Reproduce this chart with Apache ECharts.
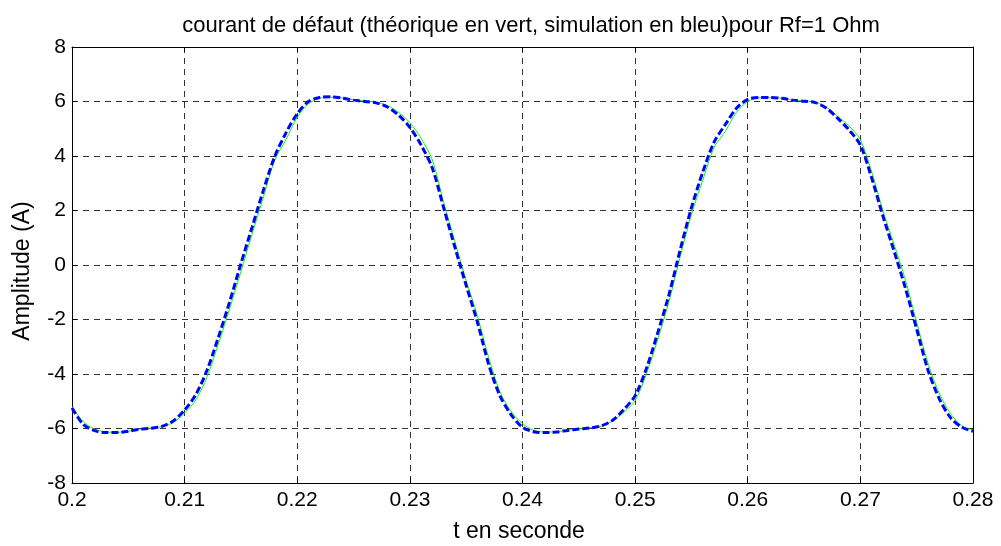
<!DOCTYPE html>
<html><head><meta charset="utf-8">
<script src="https://cdn.jsdelivr.net/npm/echarts@6/dist/echarts.min.js"></script>
<style>html,body{margin:0;padding:0;background:#fff}#c{width:1001px;height:546px}</style>
</head><body><div id="c"></div>
<script>
const titleText = "courant de défaut (théorique en vert, simulation en bleu)pour Rf=1 Ohm";
const xName = "t en seconde";
const yName = "Amplitude (A)";
const tStart = 0.2, tStep = 0.001;
const theoretical = [
 -5.19,-5.75,-6.02,-6.13,-6.14,-6.10,-6.03,-5.98,-5.93,-5.78,
 -5.43,-4.95,-4.10,-2.90,-1.60,-0.25,1.15,2.50,3.85,4.60,
 5.42,5.92,6.12,6.16,6.13,6.06,6.02,5.97,5.85,5.60,
 5.22,4.65,3.85,2.30,0.86,-0.57,-1.86,-3.40,-4.65,-5.38,
 -5.82,-6.07,-6.13,-6.12,-6.06,-6.02,-5.97,-5.92,-5.72,-5.40,
 -4.98,-4.00,-2.75,-1.35,0.30,1.85,3.10,4.30,4.90,5.60,
 6.00,6.14,6.15,6.12,6.06,6.02,5.98,5.78,5.45,5.10,
 4.60,3.43,2.00,0.75,-0.55,-2.10,-3.60,-4.70,-5.45,-5.90,
 -6.05
];
const simulation = [
 -5.25,-5.85,-6.08,-6.15,-6.15,-6.10,-6.03,-5.99,-5.92,-5.72,
 -5.32,-4.75,-3.85,-2.65,-1.35,0.05,1.40,2.75,3.98,4.85,
 5.55,6.00,6.15,6.17,6.12,6.05,6.00,5.95,5.80,5.50,
 5.05,4.40,3.55,2.10,0.65,-0.75,-2.10,-3.65,-4.80,-5.50,
 -5.95,-6.12,-6.15,-6.13,-6.07,-6.02,-5.98,-5.90,-5.70,-5.30,
 -4.80,-3.80,-2.50,-1.10,0.55,2.10,3.40,4.50,5.15,5.75,
 6.08,6.15,6.15,6.12,6.05,6.01,5.96,5.75,5.38,4.95,
 4.40,3.20,1.80,0.50,-0.85,-2.35,-3.85,-4.90,-5.60,-5.95,
 -6.10
];
const toPairs = arr => arr.map((v,i)=>[+(tStart+i*tStep).toFixed(3), v]);
const font = 'Arial, "Liberation Sans", sans-serif';
const fmtX = v => String(parseFloat(v.toFixed(3)));
const gridLine = {show:true, lineStyle:{color:'#333', type:[6,5], width:1}};
const chart = echarts.init(document.getElementById('c'));
chart.setOption({
  animation:false,
  backgroundColor:'#fff',
  title:{text:titleText, left:526, textAlign:'center', top:10, textStyle:{fontFamily:font, fontSize:22, fontWeight:'normal', color:'#000'}},
  grid:{left:72, right:28, top:47, bottom:63, containLabel:false},
  graphic:[
    {type:'text', x:23, y:271, rotation:Math.PI/2, style:{text:yName, fontFamily:font, fontSize:23, fill:'#000', align:'center', verticalAlign:'middle'}},
    {type:'text', x:519, y:532, style:{text:xName, fontFamily:font, fontSize:23, fill:'#000', align:'center', verticalAlign:'middle'}}
  ],
  xAxis:[{
    type:'value', min:0.2, max:0.28, interval:0.01, position:'bottom',
    axisLine:{onZero:false, lineStyle:{color:'#000', width:1}},
    axisTick:{inside:true, length:5, lineStyle:{color:'#000'}},
    axisLabel:{formatter:fmtX, fontFamily:font, fontSize:21, color:'#000', margin:7},
    splitLine:gridLine
  },{
    type:'value', min:0.2, max:0.28, interval:0.01, position:'top',
    axisLine:{onZero:false, lineStyle:{color:'#000', width:1}},
    axisTick:{inside:true, length:5, lineStyle:{color:'#000'}},
    axisLabel:{show:false}, splitLine:{show:false}
  }],
  yAxis:[{
    type:'value', min:-8, max:8, interval:2, position:'left',
    axisLine:{show:true, onZero:false, lineStyle:{color:'#000', width:1}},
    axisTick:{show:true, inside:true, length:5, lineStyle:{color:'#000'}},
    axisLabel:{fontFamily:font, fontSize:21, color:'#000', margin:6},
    splitLine:gridLine
  },{
    type:'value', min:-8, max:8, interval:2, position:'right',
    axisLine:{show:true, onZero:false, lineStyle:{color:'#000', width:1}},
    axisTick:{show:true, inside:true, length:5, lineStyle:{color:'#000'}},
    axisLabel:{show:false}, splitLine:{show:false}
  }],
  series:[{
    name:'théorique', type:'line', data:toPairs(theoretical), smooth:0.3,
    showSymbol:false, lineStyle:{color:'#00ff00', width:1}, z:2
  },{
    name:'simulation', type:'line', data:toPairs(simulation), smooth:0.3,
    showSymbol:false, lineStyle:{color:'#0000ff', width:3, type:[7,3]}, z:3
  }]
});
</script></body></html>
